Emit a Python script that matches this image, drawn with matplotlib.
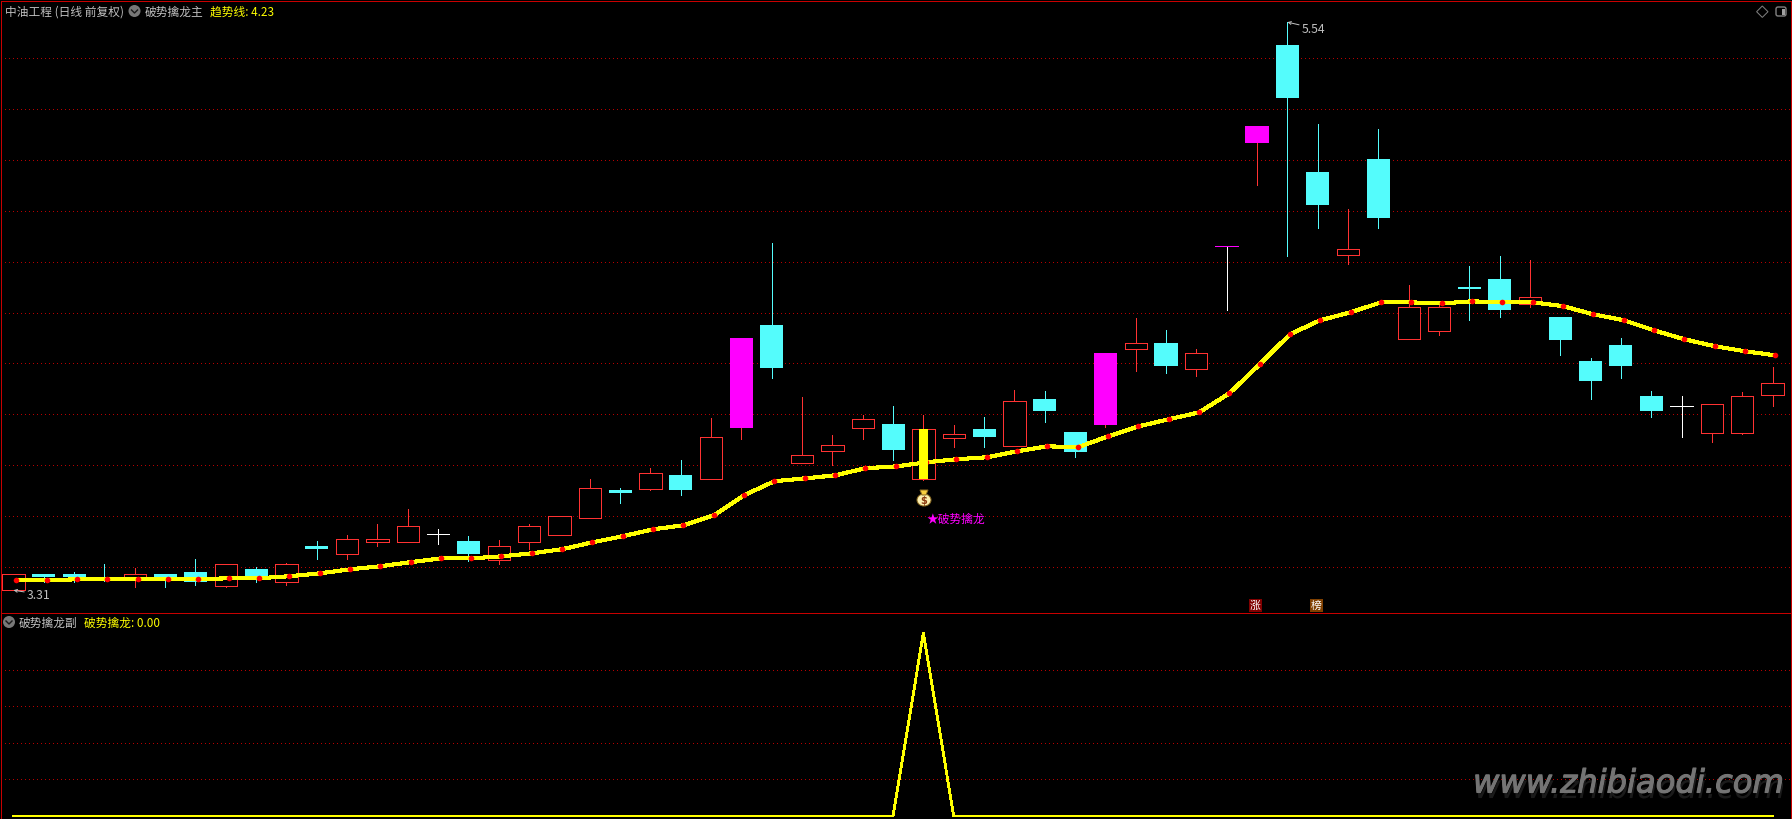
import matplotlib
matplotlib.use('Agg')
import matplotlib.pyplot as plt
import matplotlib.patheffects as pe
from matplotlib.patches import Circle, Ellipse, FancyBboxPatch, Polygon, Rectangle
import numpy as np

plt.rcParams['font.family'] = ['Noto Sans CJK SC', 'DejaVu Sans']

# 日K数据
open_p = [3.310, 3.374, 3.374, 3.362, 3.359, 3.374, 3.382, 3.328, 3.393, 3.341,
          3.484, 3.451, 3.500, 3.500, 3.530, 3.503, 3.430, 3.500, 3.528, 3.592,
          3.703, 3.709, 3.762, 3.748, 3.947, 4.351, 3.811, 3.858, 3.948, 3.963,
          3.748, 3.909, 3.943, 3.877, 4.061, 3.931, 3.959, 4.258, 4.280, 4.180,
          4.660, 5.066, 5.450, 4.952, 4.627, 5.003, 4.297, 4.329, 4.499, 4.532,
          4.435, 4.383, 4.210, 4.273, 4.072, 4.032, 3.928, 3.928, 4.078]
close_p = [3.373, 3.362, 3.362, 3.352, 3.373, 3.354, 3.342, 3.412, 3.357, 3.412,
           3.472, 3.510, 3.510, 3.561, 3.530, 3.452, 3.482, 3.561, 3.600, 3.710,
           3.692, 3.769, 3.703, 3.910, 4.300, 4.182, 3.840, 3.879, 3.981, 3.860,
           3.942, 3.922, 3.911, 4.052, 4.014, 3.853, 4.241, 4.279, 4.190, 4.240,
           4.660, 5.132, 5.242, 4.822, 4.648, 4.771, 4.421, 4.421, 4.494, 4.410,
           4.460, 4.292, 4.131, 4.190, 4.014, 4.032, 4.040, 4.071, 4.122]
high_p = [3.373, 3.374, 3.382, 3.413, 3.397, 3.374, 3.433, 3.412, 3.400, 3.417,
          3.503, 3.527, 3.570, 3.629, 3.550, 3.523, 3.506, 3.570, 3.600, 3.747,
          3.710, 3.790, 3.821, 3.986, 4.300, 4.673, 4.068, 3.919, 3.999, 4.033,
          3.998, 3.959, 3.990, 4.096, 4.092, 3.931, 4.241, 4.379, 4.332, 4.257,
          4.660, 5.132, 5.540, 5.140, 4.806, 5.121, 4.508, 4.441, 4.583, 4.622,
          4.606, 4.383, 4.222, 4.300, 4.092, 4.072, 4.040, 4.088, 4.186]
low_p = [3.310, 3.342, 3.343, 3.347, 3.323, 3.324, 3.332, 3.323, 3.343, 3.331,
         3.434, 3.434, 3.485, 3.500, 3.493, 3.426, 3.413, 3.472, 3.528, 3.592,
         3.652, 3.703, 3.684, 3.748, 3.904, 4.143, 3.811, 3.802, 3.904, 3.821,
         3.743, 3.872, 3.872, 3.877, 3.970, 3.833, 3.951, 4.171, 4.163, 4.151,
         4.410, 4.901, 4.622, 4.732, 4.591, 4.732, 4.297, 4.312, 4.371, 4.383,
         4.422, 4.233, 4.061, 4.143, 3.990, 3.911, 3.892, 3.923, 4.033]
# 趋势线
trend = [3.349, 3.349, 3.353, 3.353, 3.353, 3.353, 3.353, 3.357, 3.357, 3.365,
         3.376, 3.392, 3.404, 3.420, 3.435, 3.435, 3.443, 3.455, 3.471, 3.498,
         3.522, 3.549, 3.565, 3.604, 3.683, 3.738, 3.749, 3.761, 3.789, 3.796,
         3.812, 3.824, 3.832, 3.855, 3.875, 3.871, 3.914, 3.953, 3.981, 4.008,
         4.083, 4.197, 4.315, 4.370, 4.401, 4.440, 4.440, 4.436, 4.444, 4.440,
         4.440, 4.425, 4.393, 4.370, 4.330, 4.295, 4.268, 4.248, 4.232]
# 副图信号
signal = [0, 0, 0, 0, 0, 0, 0, 0, 0, 0, 0, 0, 0, 0, 0, 0, 0, 0, 0, 0,
          0, 0, 0, 0, 0, 0, 0, 0, 0, 0, 1, 0, 0, 0, 0, 0, 0, 0, 0, 0,
          0, 0, 0, 0, 0, 0, 0, 0, 0, 0, 0, 0, 0, 0, 0, 0, 0, 0, 0]
limit_up_days = [24, 36, 40, 41]
price_grid = [3.4, 3.6, 3.8, 4.0, 4.2, 4.4, 4.6, 4.8, 5.0, 5.2, 5.4]
price_minor = [3.3, 3.5, 3.7, 3.9, 4.1, 4.3, 4.5, 4.7, 4.9, 5.1, 5.3, 5.5]
signal_grid = [0.2, 0.4, 0.6, 0.8]
signal_minor = [0.1, 0.3, 0.5, 0.7, 0.9, 1.0]

RED = '#ff3232'
CYAN = '#54fcfc'
MAGENTA = '#ff00ff'
YELLOW = '#ffff00'
BORDER = '#c80000'
GRID = '#b80000'
GREY = '#c0c0c0'
PX = 0.72  # 1像素对应的磅数

W, H = 1792, 820


def panel(left, top, right, bottom):
    ax = fig.add_axes([left / W, 1 - bottom / H, (right - left) / W, (bottom - top) / H])
    ax.set_facecolor('black')
    ax.set_xlim(-0.412, 58.59)
    ax.set_xticks([])
    ax.yaxis.tick_right()
    ax.tick_params(axis='y', which='both', colors=BORDER, length=2 * PX, width=PX,
                   labelright=False)
    for s in ax.spines.values():
        s.set_color(BORDER)
        s.set_linewidth(PX)
        s.set_antialiased(False)
    ax.grid(axis='y', color=GRID, linewidth=PX, linestyle=(0, (1, 4)), antialiased=False)
    ax.set_axisbelow(True)
    return ax


fig = plt.figure(figsize=(W / 100, H / 100), dpi=100, facecolor='black')
ax = panel(1, 2, 1790.5, 614.3)
ax2 = panel(1, 614.3, 1790.5, 820)
ax.set_ylim(3.2194, 5.623)
ax.set_yticks(price_grid)
ax.set_yticks(price_minor, minor=True)
ax2.set_ylim(-0.0164, 1.1077)
ax2.set_yticks(signal_grid)
ax2.set_yticks(signal_minor, minor=True)
ax2.spines['bottom'].set_visible(False)

days = np.arange(len(open_p))
o = np.array(open_p)
c = np.array(close_p)
h = np.array(high_p)
l = np.array(low_p)

# 影线颜色：涨红跌青，平盘白
wick_colors = [RED if c[i] > o[i] else CYAN if c[i] < o[i] else 'white' for i in days]
ax.vlines(days, l, h, colors=wick_colors, linewidth=PX, zorder=2, antialiased=False)

up = c > o
down = c < o
flat = c == o
limit = np.isin(days, limit_up_days)

# 空心阳线
ax.bar(days[up & ~limit], (c - o)[up & ~limit], bottom=o[up & ~limit], width=0.735,
       facecolor='black', edgecolor=RED, linewidth=PX, zorder=3, antialiased=False)
# 实心阴线
ax.bar(days[down], (o - c)[down], bottom=c[down], width=0.76, color=CYAN, linewidth=0,
       zorder=3, antialiased=False)
# 涨停
ax.bar(days[up & limit], (c - o)[up & limit], bottom=o[up & limit], width=0.76,
       color=MAGENTA, linewidth=0, zorder=3, antialiased=False)
# 一字
for i in days[flat]:
    ax.hlines(c[i], i - 0.37, i + 0.37, colors=MAGENTA if i in limit_up_days else 'white',
              linewidth=PX, zorder=3, antialiased=False)

# 趋势线和红点，点比K线中心偏右一点
ax.plot(days + 0.09, trend, color=YELLOW, linewidth=3.1 * PX, zorder=4, antialiased=False,
        solid_capstyle='butt')
ax.plot(days + 0.09, trend, linestyle='none', marker='o', markersize=5.6 * PX, color='#ff0000',
        markeredgewidth=0, zorder=5)

# 信号当天的黄柱
sig = np.array(signal) == 1
ax.bar(days[sig], (c - o)[sig], bottom=o[sig], width=0.297, color=YELLOW, linewidth=0, zorder=6,
       antialiased=False)

ax.annotate('3.31', xy=(days[0], min(low_p)), xytext=(13.5 * PX, -4 * PX), textcoords='offset points',
            color=GREY, fontsize=8.8, va='center', ha='left', zorder=8,
            arrowprops=dict(arrowstyle='->', color=GREY, lw=PX, shrinkA=0, shrinkB=0,
                            mutation_scale=5))
ax.annotate('5.54', xy=(days[42], max(high_p)), xytext=(14.5 * PX, -6 * PX), textcoords='offset points',
            color=GREY, fontsize=8.8, va='center', ha='left', zorder=8,
            arrowprops=dict(arrowstyle='->', color=GREY, lw=PX, shrinkA=0, shrinkB=0,
                            mutation_scale=5))

# 副图
ax2.plot(days, signal, color=YELLOW, linewidth=1.8 * PX, antialiased=False, solid_joinstyle='miter')

# 文字和小图标用一层像素坐标
ui = fig.add_axes([0, 0, 1, 1])
ui.set_xlim(0, W)
ui.set_ylim(H, 0)
ui.axis('off')
ui.patch.set_alpha(0)

fs = 8.45
ui.text(5, 12, '中油工程 (日线 前复权)', color=GREY, fontsize=fs, va='center')
ui.text(145, 12, '破势擒龙主', color=GREY, fontsize=fs, va='center')
ui.text(210, 12, '趋势线: 4.23', color=YELLOW, fontsize=fs, va='center')
ui.text(19, 623, '破势擒龙副', color=GREY, fontsize=fs, va='center')
ui.text(84, 623, '破势擒龙: 0.00', color=YELLOW, fontsize=fs, va='center')
ui.text(927, 519, '★破势擒龙', color=MAGENTA, fontsize=fs, va='center')

# 下拉圆点图标
for cx, cy in [(134.5, 12), (9, 623)]:
    ui.add_patch(Circle((cx, cy), 6, color='#787878', linewidth=0))
    ui.plot([cx - 3, cx, cx + 3], [cy - 1, cy + 2, cy - 1], color='#1a1a1a', linewidth=1.4 * PX)

# 钱袋
ui.add_patch(Ellipse((924, 501), 14, 12, facecolor='#fdf0b0', edgecolor='#8a6a20', linewidth=PX))
ui.add_patch(Polygon([(920, 491), (928, 491), (926, 496), (922, 496)], facecolor='#f8d040',
                     edgecolor='#8a6a20', linewidth=PX))
ui.text(924, 501, '$', color='#8a3b10', fontsize=7, fontweight='bold', ha='center', va='center',
        family='DejaVu Sans')

# 涨、榜标记
ui.add_patch(Rectangle((1249, 600), 12.5, 13, color='#800000', linewidth=0))
ui.text(1255.2, 606.3, '涨', color='white', fontsize=7.8, ha='center', va='center')
ui.add_patch(Rectangle((1310, 600), 13, 13, color='#804000', linewidth=0))
ui.text(1316.5, 606.3, '榜', color='white', fontsize=7.8, ha='center', va='center')

# 右上角图标
ui.add_patch(Polygon([(1762.3, 7), (1768, 12.7), (1762.3, 18.4), (1756.6, 12.7)], fill=False,
                     edgecolor='#808080', linewidth=PX))
ui.add_patch(FancyBboxPatch((1776, 8), 10, 9, boxstyle='round,pad=0,rounding_size=2', fill=False,
                            edgecolor='#808080', linewidth=1.4 * PX))
ui.add_patch(Rectangle((1781.5, 9.5), 3, 6.5, color='#a0a0a0', linewidth=0))

# 水印
ui.text(1473, 785, 'www.zhibiaodi.com', color='#747474', fontsize=23.2, style='italic',
        family='DejaVu Sans', va='center', ha='left',
        path_effects=[pe.withSimplePatchShadow(offset=(1, -4), shadow_rgbFace='#2c2c2c', alpha=0.6),
                      pe.withStroke(linewidth=0.8, foreground='#747474')])

fig.savefig('out.png', dpi=100, facecolor='black')
